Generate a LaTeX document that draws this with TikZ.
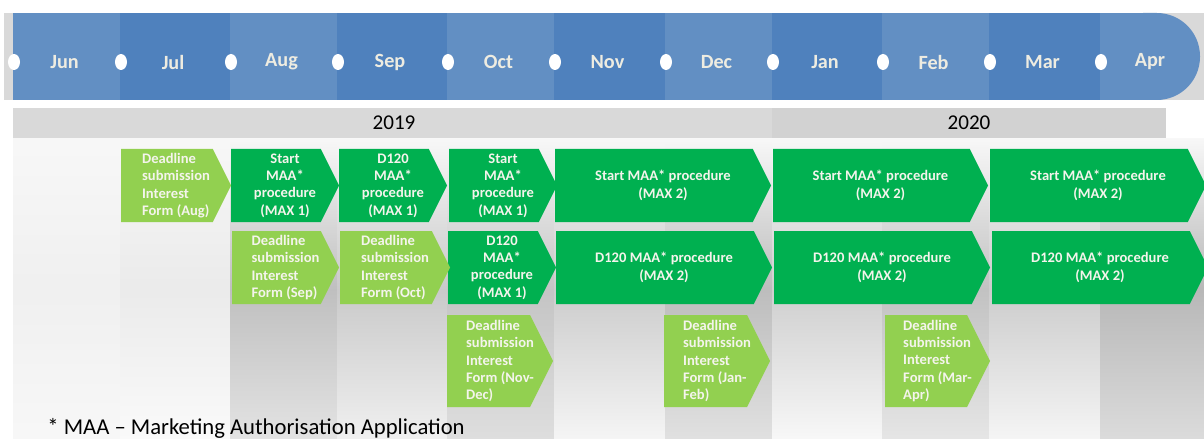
\documentclass[tikz,border=0pt]{standalone}
\usepackage{fontspec}
\setmainfont{Carlito}
\usepackage{xcolor}

\definecolor{monLight}{HTML}{628FC3}
\definecolor{monDark}{HTML}{4F81BD}
\definecolor{monText}{HTML}{EEECE1}
\definecolor{bandGray}{HTML}{D9D9D9}
\definecolor{yearGray}{HTML}{D9D9D9}
\definecolor{yearGrayB}{HTML}{D2D2D2}
\definecolor{deadGreen}{HTML}{92D050}
\definecolor{procGreen}{HTML}{00B050}
\definecolor{boxText}{HTML}{F4F4EC}

\tikzset{
	deadline/.style={fill=deadGreen},
	proc/.style={fill=procGreen},
	boxtxt/.style={text=boxText, inner sep=0pt, font=\fontsize{8.3}{9.9}\selectfont\bfseries},
	deadline txt/.style={boxtxt, align=left},
	proc txt/.style={boxtxt, align=center},
	month/.style={text=monText, font=\fontsize{11.5}{13}\selectfont\bfseries},
	year/.style={font=\fontsize{12}{14}\selectfont},
	footnote/.style={font=\fontsize{12.9}{15}\selectfont, anchor=west, inner sep=0pt},
}

% name, style, left x, tip x, top y, bottom y, text
\newcommand{\chevron}[7]{%
	\pgfmathsetmacro{\tipd}{(#6-#5)/4}%
	\pgfmathsetmacro{\midy}{(#5+#6)/2}%
	\fill[#2] (#3,#5) -- ({#4-\tipd},#5) -- (#4,\midy) -- ({#4-\tipd},#6) -- (#3,#6) -- cycle;
	\node[#2 txt] (#1) at ({(#3+#4)/2},\midy) {#7};
}

\begin{document}
\begin{tikzpicture}[x=0.02cm, y=-0.02cm]
	\useasboundingbox (0,0) rectangle (1204,439);
	% shaded columns
	\foreach \xa/\xb/\mid/\bot in {13/120/6/3, 120/230/8/2, 230/337/25/11, 337/447/21/6, 447/554/23/13, 554/665/20/4, 665/772/26/12, 772/882/19/3, 882/989/24/10, 989/1100/20/4, 1100/1204/28/14}
		\fill[top color=black!3, bottom color=black!\bot, middle color=black!\mid] (\xa,139) rectangle (\xb,439);
	% month band
	\fill[bandGray] (4,13) rectangle (1204,100);
	\fill[monLight, rounded corners=24.6pt] (1100,13) rectangle (1200,100);
	\fill[monLight] (1100,13) rectangle (1160,100);
	\foreach \mon/\xa/\xb/\col in {Jun/13/120/monLight, Jul/120/230/monDark, Aug/230/337/monLight, Sep/337/447/monDark, Oct/447/554/monLight, Nov/554/665/monDark, Dec/665/772/monLight, Jan/772/882/monDark, Feb/882/989/monLight, Mar/989/1100/monDark}
		\fill[\col] (\xa,13) rectangle (\xb,100);
	\foreach \mon/\xa/\xb in {Jun/13/120, Jul/120/230, Aug/230/337, Sep/337/447, Oct/447/554, Nov/554/665, Dec/665/772, Jan/772/882, Feb/882/989, Mar/989/1100, Apr/1100/1204} {
		\node[month] (m\mon) at ({(\xa+\xb)/2-2},62) {\mon};
		\fill[white] (\xa+1,62) ellipse [x radius=6, y radius=8];
	}
	% years
	\fill[yearGray] (13,108) rectangle (772,138);
	\fill[yearGrayB] (772,108) rectangle (1166,138);
	\node[year] (y2019) at (394,123) {2019};
	\node[year] (y2020) at (969,123) {2020};
	% first row
	\chevron{deadAug}{deadline}{121}{231}{149}{222}{Deadline\\submission\\Interest\\Form (Aug)}
	\chevron{startAug}{proc}{231}{339}{149}{222}{Start\\MAA*\\procedure\\(MAX 1)}
	\chevron{dSep}{proc}{339}{447}{149}{222}{D120\\MAA*\\procedure\\(MAX 1)}
	\chevron{startOct}{proc}{449}{557}{149}{222}{Start\\MAA*\\procedure\\(MAX 1)}
	\chevron{startNovDec}{proc}{555}{771}{149}{222}{Start MAA* procedure\\(MAX 2)}
	\chevron{startJanFeb}{proc}{773}{988}{149}{222}{Start MAA* procedure\\(MAX 2)}
	\chevron{startMarApr}{proc}{990}{1206}{149}{222}{Start MAA* procedure\\(MAX 2)}
	% second row
	\chevron{deadSep}{deadline}{232}{339}{231}{304}{Deadline\\submission\\Interest\\Form (Sep)}
	\chevron{dOct}{proc}{448}{556}{231}{304}{D120\\MAA*\\procedure\\(MAX 1)}
	\chevron{deadOct}{deadline}{340}{450}{231}{304}{Deadline\\submission\\Interest\\Form (Oct)}
	\chevron{dNovDec}{proc}{556}{772}{231}{304}{D120 MAA* procedure\\(MAX 2)}
	\chevron{dJanFeb}{proc}{774}{990}{231}{304}{D120 MAA* procedure\\(MAX 2)}
	\chevron{dMarApr}{proc}{992}{1208}{231}{304}{D120 MAA* procedure\\(MAX 2)}
	% third row
	\chevron{deadNovDec}{deadline}{447}{553}{315}{407}{Deadline\\submission\\Interest\\Form (Nov-\\Dec)}
	\chevron{deadJanFeb}{deadline}{664}{770}{315}{407}{Deadline\\submission\\Interest\\Form (Jan-\\Feb)}
	\chevron{deadMarApr}{deadline}{885}{990}{315}{407}{Deadline\\submission\\Interest\\Form (Mar-\\Apr)}
	% footnote
	\node[footnote] (note) at (47,428) {* MAA – Marketing Authorisation Application};
\end{tikzpicture}
\end{document}
